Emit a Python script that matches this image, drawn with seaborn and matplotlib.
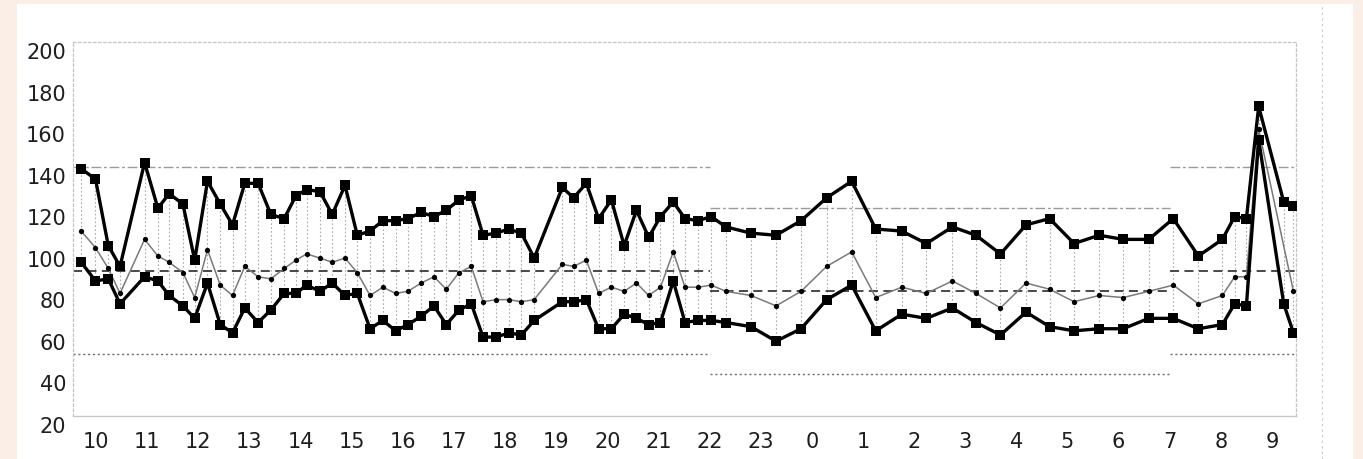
import matplotlib
matplotlib.use("Agg")
import matplotlib.pyplot as plt
import matplotlib.transforms as mtransforms
from matplotlib.patches import Rectangle
from matplotlib.lines import Line2D
import numpy as np
import pandas as pd
import seaborn as sns

# Reading times in decimal hours (values above 24 are after midnight)
times = [9.71, 9.99, 10.24, 10.47, 10.95, 11.21, 11.43, 11.70, 11.93, 12.18,
         12.43, 12.67, 12.91, 13.17, 13.42, 13.68, 13.91, 14.12, 14.38, 14.62,
         14.87, 15.11, 15.36, 15.61, 15.86, 16.10, 16.36, 16.61, 16.85, 17.10,
         17.34, 17.57, 17.83, 18.07, 18.32, 18.57, 19.12, 19.34, 19.59, 19.83,
         20.08, 20.33, 20.57, 20.81, 21.04, 21.29, 21.52, 21.78, 22.03, 22.32,
         22.81, 23.30, 23.79, 24.29, 24.78, 25.25, 25.76, 26.24, 26.75, 27.21,
         27.69, 28.19, 28.65, 29.13, 29.62, 30.09, 30.59, 31.07, 31.56, 32.03,
         32.27, 32.50, 32.74, 33.23, 33.42]

systolic = [139, 134, 102, 92, 142, 120, 127, 122, 95, 133,
            122, 112, 132, 132, 117, 115, 126, 129, 128, 117,
            131, 107, 109, 114, 114, 115, 118, 116, 119, 124,
            126, 107, 108, 110, 108, 96, 130, 125, 132, 115,
            124, 102, 119, 106, 116, 123, 115, 114, 116, 111,
            108, 107, 114, 125, 133, 110, 109, 103, 111, 107,
            98, 112, 115, 103, 107, 105, 105, 115, 97, 105,
            116, 115, 169, 123, 121]

diastolic = [94, 85, 86, 74, 87, 85, 78, 73, 67, 84,
             64, 60, 72, 65, 71, 79, 79, 83, 80, 84,
             78, 79, 62, 66, 61, 64, 68, 73, 64, 71,
             74, 58, 58, 60, 59, 66, 75, 75, 76, 62,
             62, 69, 67, 64, 65, 85, 65, 66, 66, 65,
             63, 56, 62, 76, 83, 61, 69, 67, 72, 65,
             59, 70, 63, 61, 62, 62, 67, 67, 62, 64,
             74, 73, 153, 74, 60]

mean_ap = [109, 101, 91, 79, 105, 97, 94, 89, 77, 100,
           83, 78, 92, 87, 86, 91, 95, 98, 96, 94,
           96, 89, 78, 82, 79, 80, 84, 87, 81, 89,
           92, 75, 76, 76, 75, 76, 93, 92, 95, 79,
           82, 80, 84, 78, 82, 99, 82, 82, 83, 80,
           78, 73, 80, 92, 99, 77, 82, 79, 85, 79,
           72, 84, 81, 75, 78, 77, 80, 83, 74, 78,
           87, 87, 158, np.nan, 80]

# Threshold bands: (start hour, end hour, upper, middle, lower)
periods = [(9.55, 22.0, 140, 90, 50),
           (22.0, 31.0, 120, 80, 40),
           (31.0, 33.47, 140, 90, 50)]

hour_ticks = list(range(10, 34))
hour_labels = [str(h % 24) for h in hour_ticks]
y_ticks = list(range(20, 201, 20))

df = pd.DataFrame({"time": times, "sys": systolic, "dia": diastolic, "map": mean_ap})

sns.set_style("white")
plt.rcParams["font.family"] = ["DejaVu Sans"]

W, H = 1363, 460
fig = plt.figure(figsize=(W / 100, H / 100), dpi=100)
fig.patch.set_facecolor("#fbeee6")
fig.patches.append(Rectangle((17 / W, 0), (1353 - 17) / W, (H - 5) / H,
                             transform=fig.transFigure, facecolor="white",
                             edgecolor="none", zorder=-1))
fig.lines.append(Line2D([1322 / W, 1322 / W], [0, (H - 5) / H], transform=fig.transFigure,
                        color="#c8c8c8", lw=0.8, ls=(0, (2, 3)), zorder=-0.5))

ax = fig.add_axes([73 / W, 43 / H, (1296 - 73) / W, (417 - 43) / H])
ax.set_facecolor("white")

# vertical dotted connectors between systolic and diastolic readings
ax.vlines(df["time"], df["dia"], df["sys"], colors="#aaaaaa", lw=0.8,
          linestyles=(0, (1.5, 2.0)), zorder=1)

# threshold lines for day and night periods
for x0, x1, hi, mid, lo in periods:
    ax.hlines(hi, x0, x1, colors="#9a9a9a", lw=1.0, linestyles=(0, (7, 2, 2, 2)), zorder=1)
    ax.hlines(mid, x0, x1, colors="#3a3a3a", lw=1.3, linestyles=(0, (5, 3)), zorder=1)
    ax.hlines(lo, x0, x1, colors="#6a6a6a", lw=1.0, linestyles=(0, (1.5, 2.0)), zorder=1)

sns.lineplot(data=df, x="time", y="sys", ax=ax, color="black", lw=2.4,
             marker="s", markersize=6.5, markeredgewidth=0, zorder=4)
sns.lineplot(data=df, x="time", y="dia", ax=ax, color="black", lw=2.4,
             marker="s", markersize=6.5, markeredgewidth=0, zorder=4)
sns.lineplot(data=df.dropna(subset=["map"]), x="time", y="map", ax=ax, color="#7a7a7a",
             lw=1.1, marker="o", markersize=3.8, markerfacecolor="black",
             markeredgewidth=0, zorder=3)

ax.set_xlim(9.55, 33.47)
ax.set_ylim(20, 200)
ax.set_xticks(hour_ticks)
ax.set_xticklabels(hour_labels, fontsize=15, color="#1e1e1e")
ax.set_yticks(y_ticks)
ax.set_yticklabels([str(v) for v in y_ticks], fontsize=15, color="#1e1e1e")
ax.set_xlabel("")
ax.set_ylabel("")
ax.tick_params(axis="x", direction="in", length=3, color="#bbbbbb", pad=11)
ax.tick_params(axis="y", length=0, pad=5)

# y labels sit slightly below their reference values
shift = mtransforms.ScaledTranslation(0, -0.08, fig.dpi_scale_trans)
for lab in ax.get_yticklabels():
    lab.set_transform(lab.get_transform() + shift)

for side in ["left", "top", "right"]:
    ax.spines[side].set_color("#c4c4c4")
    ax.spines[side].set_linewidth(0.9)
    ax.spines[side].set_linestyle((0, (2, 2)))
ax.spines["bottom"].set_color("#c8c8c8")
ax.spines["bottom"].set_linewidth(1.0)

fig.savefig("out.png", dpi=100, facecolor=fig.get_facecolor())
